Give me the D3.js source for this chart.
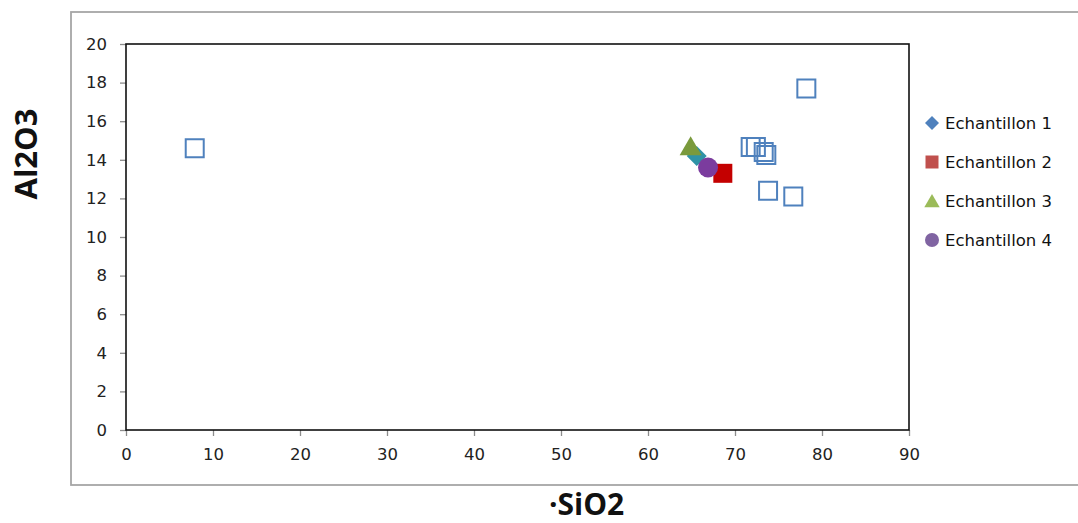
<!DOCTYPE html>
<html><head><meta charset="utf-8">
<script src="https://cdn.jsdelivr.net/npm/d3@7"></script>
<style>body{margin:0;background:#fff;}svg{display:block;}</style>
</head><body>
<svg id="c" width="1078" height="523"></svg>
<script>
// ---- data ----
const xTicks = [0,10,20,30,40,50,60,70,80,90];
const yTicks = [0,2,4,6,8,10,12,14,16,18,20];
const seriesNames = ["Echantillon 1","Echantillon 2","Echantillon 3","Echantillon 4"];
const ech1SiO2 = [65.6], ech1Al2O3 = [14.2];
const ech2SiO2 = [68.6], ech2Al2O3 = [13.3];
const ech3SiO2 = [64.9], ech3Al2O3 = [14.7];
const ech4SiO2 = [66.9], ech4Al2O3 = [13.6];
const refSiO2  = [7.9, 71.8, 72.4, 73.3, 73.6, 73.8, 76.7, 78.2];
const refAl2O3 = [14.6, 14.66, 14.66, 14.4, 14.25, 12.4, 12.1, 17.7];

const svg = d3.select("#c");
const x = d3.scaleLinear().domain([0,90]).range([126,909]);
const y = d3.scaleLinear().domain([0,20]).range([430,44]);

// outer chart frame
svg.append("rect").attr("x",71).attr("y",12).attr("width",1020).attr("height",473)
  .attr("fill","none").attr("stroke","#a6a6a6").attr("stroke-width",1.8);

// axes
const xAxis = svg.append("g").attr("transform","translate(0,430)")
  .call(d3.axisBottom(x).tickValues(xTicks).tickSize(6).tickSizeOuter(0).tickPadding(9));
const yAxis = svg.append("g").attr("transform","translate(126,0)")
  .call(d3.axisLeft(y).tickValues(yTicks).tickSize(6).tickSizeOuter(0).tickPadding(13));
[xAxis,yAxis].forEach(a=>{
  a.select(".domain").remove();
  a.selectAll(".tick line").attr("stroke","#8c8c8c").attr("stroke-width",1.3);
  a.selectAll(".tick text").attr("font-family","DejaVu Sans, sans-serif").attr("font-size",16.5).attr("fill","#222");
});
xAxis.selectAll(".tick text").attr("dy","0.9em");

// plot area box
svg.append("rect").attr("x",x(0)).attr("y",y(20)).attr("width",x(90)-x(0)).attr("height",y(0)-y(20))
  .attr("fill","none").attr("stroke","#111").attr("stroke-width",1.6);

// marker paths
const shapes = {
  diamond: r => `M0,${-r}L${r},0L0,${r}L${-r},0Z`,
  square: r => `M${-r},${-r}H${r}V${r}H${-r}Z`,
  triangle: r => `M0,${-r}L${r*1.1},${r*0.9}L${-r*1.1},${r*0.9}Z`,
  circle: r => `M${r},0A${r},${r} 0 1,1 ${-r},0A${r},${r} 0 1,1 ${r},0Z`
};

// reference open squares
svg.append("g").selectAll("path").data(d3.range(refSiO2.length)).join("path")
  .attr("transform",i=>`translate(${x(refSiO2[i])},${y(refAl2O3[i])})`)
  .attr("d",shapes.square(9)).attr("fill","none").attr("stroke","#4f81bd").attr("stroke-width",2);

const series = [
  {xs:ech1SiO2, ys:ech1Al2O3, shape:"diamond", r:10, fill:"#2f93a6", leg:"#4f81bd", lr:7},
  {xs:ech2SiO2, ys:ech2Al2O3, shape:"square", r:9.5, fill:"#c40000", leg:"#c0504d", lr:6.5},
  {xs:ech3SiO2, ys:ech3Al2O3, shape:"triangle", r:10, fill:"#7a9a3c", leg:"#9bbb59", lr:7},
  {xs:ech4SiO2, ys:ech4Al2O3, shape:"circle", r:10, fill:"#7b3c9e", leg:"#8064a2", lr:7}
];
series.forEach(s=>{
  svg.append("g").selectAll("path").data(d3.range(s.xs.length)).join("path")
    .attr("transform",i=>`translate(${x(s.xs[i])},${y(s.ys[i])})`)
    .attr("d",shapes[s.shape](s.r)).attr("fill",s.fill);
});

// legend
const legY = [123,162,201,240];
series.forEach((s,i)=>{
  svg.append("path").attr("transform",`translate(932,${legY[i]})`)
    .attr("d",shapes[s.shape](s.lr)).attr("fill",s.leg);
  svg.append("text").attr("x",945).attr("y",legY[i]).attr("dy","0.36em")
    .attr("font-family","DejaVu Sans, sans-serif").attr("font-size",16.5).attr("fill","#111")
    .text(seriesNames[i]);
});

// axis titles
svg.append("text").attr("x",549).attr("y",515)
  .attr("font-family","Open Sans, sans-serif").attr("font-weight",700).attr("font-size",30).attr("fill","#111")
  .text("·SiO2");
svg.append("text").attr("transform","translate(37,154) rotate(-90)").attr("text-anchor","middle")
  .attr("font-family","Open Sans, sans-serif").attr("font-weight",700).attr("font-size",31).attr("fill","#111")
  .text("Al2O3");
</script>
</body></html>
